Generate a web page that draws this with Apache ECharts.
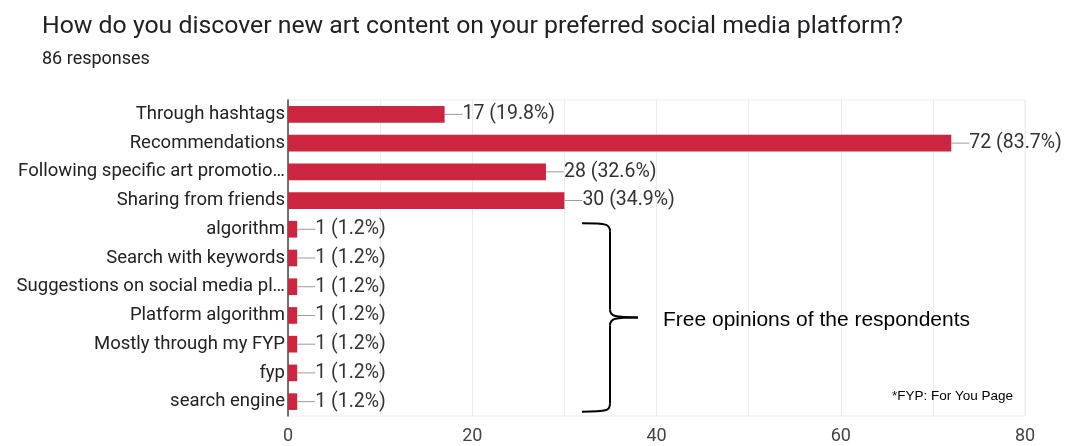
<!DOCTYPE html>
<html>
<head>
<meta charset="utf-8">
<script src="https://cdn.jsdelivr.net/npm/echarts@6/dist/echarts.min.js"></script>
<style>
  html, body { margin: 0; padding: 0; background: #fff; }
  #chart { width: 1067px; height: 446px; }
</style>
</head>
<body>
<div id="chart"></div>
<script>
// Survey answers, top to bottom
const categories = [
  'Through hashtags',
  'Recommendations',
  'Following specific art promotio…',
  'Sharing from friends',
  'algorithm',
  'Search with keywords',
  'Suggestions on social media pl…',
  'Platform algorithm',
  'Mostly through my FYP',
  'fyp',
  'search engine'
];
const counts = [17, 72, 28, 30, 1, 1, 1, 1, 1, 1, 1];
const percents = ['19.8', '83.7', '32.6', '34.9', '1.2', '1.2', '1.2', '1.2', '1.2', '1.2', '1.2'];
const xTicks = [0, 20, 40, 60, 80];

const titleText = 'How do you discover new art content on your preferred social media platform?';
const subtitleText = '86 responses';
const braceText = 'Free opinions of the respondents';
const noteText = '*FYP: For You Page';

const chart = echarts.init(document.getElementById('chart'));

const option = {
  animation: false,
  backgroundColor: '#ffffff',
  title: {
    text: titleText,
    subtext: subtitleText,
    left: 37,
    top: 9,
    itemGap: 11,
    textStyle: { fontFamily: 'Roboto', fontSize: 24.8, fontWeight: 'normal', color: '#202124' },
    subtextStyle: { fontFamily: 'Roboto', fontSize: 18, color: '#202124' }
  },
  grid: {
    left: 288, right: 42, top: 100, bottom: 30,
    show: true, borderColor: '#ebebeb', borderWidth: 1
  },
  xAxis: {
    type: 'value',
    min: xTicks[0],
    max: xTicks[xTicks.length - 1],
    interval: 20,
    axisLine: { show: false },
    axisTick: { show: false },
    axisLabel: { fontFamily: 'Roboto', fontSize: 18, color: '#444', margin: 11 },
    splitLine: { lineStyle: { color: '#ebebeb', width: 1 } },
    minorTick: { show: false, splitNumber: 2 },
    minorSplitLine: { show: true, lineStyle: { color: '#ebebeb', width: 1 } }
  },
  yAxis: {
    type: 'category',
    inverse: true,
    data: categories,
    axisLine: { show: true, lineStyle: { color: '#444', width: 1.5 } },
    axisTick: { show: false },
    axisLabel: { fontFamily: 'Roboto', fontSize: 18.5, color: '#222', margin: 3 }
  },
  series: [{
    type: 'bar',
    data: counts,
    barCategoryGap: '42%',
    itemStyle: { color: '#cc2540' },
    label: {
      show: true,
      position: 'right',
      distance: 0,
      formatter: p => '{rule|}{val|' + p.value + ' (' + percents[p.dataIndex] + '%)}',
      rich: {
        rule: { width: 18, height: 1, backgroundColor: '#9a9a9a', verticalAlign: 'middle' },
        val: { fontFamily: 'Roboto', fontSize: 19.5, color: '#333', verticalAlign: 'middle' }
      }
    }
  }]
};

chart.setOption(option);

// Curly brace grouping the free-text answers, placed from the axis scale
const braceTop = chart.convertToPixel({ gridIndex: 0 }, [0, 4])[1] - 6;
const braceBottom = chart.convertToPixel({ gridIndex: 0 }, [0, 10])[1] + 10;
const braceMid = (braceTop + braceBottom) / 2;
const bx = 610, x0 = 582, tip = 638, r = 8;
const braceStroke = { stroke: '#000', lineWidth: 2, fill: null };

const braceParts = [
  { type: 'bezierCurve', shape: { x1: x0, y1: braceTop, cpx1: bx - 3, cpy1: braceTop, cpx2: bx, cpy2: braceTop + 1, x2: bx, y2: braceTop + r } },
  { type: 'line', shape: { x1: bx, y1: braceTop + r, x2: bx, y2: braceMid - r } },
  { type: 'bezierCurve', shape: { x1: bx, y1: braceMid - r, cpx1: bx, cpy1: braceMid - 1, cpx2: bx + 5, cpy2: braceMid, x2: tip, y2: braceMid } },
  { type: 'bezierCurve', shape: { x1: tip, y1: braceMid, cpx1: bx + 5, cpy1: braceMid, cpx2: bx, cpy2: braceMid + 1, x2: bx, y2: braceMid + r } },
  { type: 'line', shape: { x1: bx, y1: braceMid + r, x2: bx, y2: braceBottom - r } },
  { type: 'bezierCurve', shape: { x1: bx, y1: braceBottom - r, cpx1: bx, cpy1: braceBottom - 1, cpx2: bx - 3, cpy2: braceBottom, x2: x0, y2: braceBottom } }
].map(p => Object.assign(p, { style: braceStroke }));

chart.setOption({
  graphic: braceParts.concat([
    {
      type: 'text',
      left: 663,
      top: braceMid - 8,
      style: { text: braceText, fontFamily: 'Liberation Sans', fontSize: 21, fill: '#000' }
    },
    {
      type: 'text',
      left: 892,
      top: 389,
      style: { text: noteText, fontFamily: 'Liberation Sans', fontSize: 13.5, fill: '#000' }
    }
  ])
});
</script>
</body>
</html>
